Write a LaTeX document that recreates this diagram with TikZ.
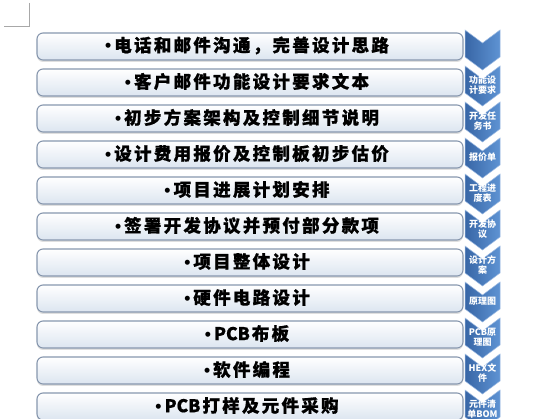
\documentclass[tikz,border=0pt]{standalone}
\usepackage{fontspec}
\newfontfamily\cjk{Noto Sans CJK SC}
\newfontfamily\lat{Liberation Sans}
\usetikzlibrary{shadows}
\definecolor{boxedge}{HTML}{8797AE}
\definecolor{boxbot}{HTML}{DCE5F0}
\definecolor{chevl}{HTML}{3866A6}
\definecolor{chevr}{HTML}{5E93D3}
\definecolor{chevedge}{HTML}{9DBBE3}
\definecolor{cropgray}{HTML}{A8A8A8}
\newcommand{\bul}{{\lat •}\hspace{3pt}}
\newcommand{\lt}[1]{{\addfontfeature{LetterSpace=0}#1}\hspace{2pt}}
\tikzset{
  stepbox/.style={draw=boxedge, line width=1.1pt, rounded corners=6pt,
    top color=white, bottom color=boxbot, minimum width=426pt, minimum height=27pt,
    inner sep=0pt,
    drop shadow={opacity=0.25, shadow xshift=0pt, shadow yshift=-2pt}},
  steptext/.style={inner sep=0pt,
    font=\cjk\bfseries\fontsize{17.5}{17.5}\selectfont\addfontfeature{LetterSpace=13,FakeBold=0.8}},
  chev/.style={left color=chevl, right color=chevr, draw=chevedge, line width=0.5pt},
  chevlabel/.style={text=white, align=center, inner sep=0pt,
    font=\cjk\bfseries\fontsize{9}{10}\selectfont},
  crop/.style={draw=cropgray, line width=0.6pt}
}
\begin{document}
\begin{tikzpicture}[x=1pt, y=-1pt]
\useasboundingbox (0,0) rectangle (538,419);
\clip (0,0) rectangle (538,419);
\fill[white] (0,0) rectangle (538,419);
% crop mark
\coordinate (m1) at (29.5,3);
\coordinate (m2) at (29.5,26);
\coordinate (m3) at (4,26);
\draw[crop] (m1) -- (m2) -- (m3);
% boxes
\foreach \i/\t in {1/{电话和邮件沟通，完善设计思路},
                   2/{客户邮件功能设计要求文本},
                   3/{初步方案架构及控制细节说明},
                   4/{设计费用报价及控制板初步估价},
                   5/{项目进展计划安排},
                   6/{签署开发协议并预付部分款项},
                   7/{项目整体设计},
                   8/{硬件电路设计},
                   9/{\lt{PCB}布板},
                   10/{软件编程},
                   11/{\lt{PCB}打样及元件采购}} {
  \node[stepbox] (b\i) at (250, {46.5+36*(\i-1)}) {};
  \node[steptext] (t\i) at (247, {45.5+36*(\i-1)}) {\bul\t};
}
% chevrons
\foreach \i/\t in {1/{},
                   2/{功能设\\计要求},
                   3/{开发任\\务书},
                   4/{报价单},
                   5/{工程进\\度表},
                   6/{开发协\\议},
                   7/{设计方\\案},
                   8/{原理图},
                   9/{PCB原\\理图},
                   10/{HEX文\\件},
                   11/{元件清\\单BOM}} {
  \pgfmathsetmacro{\T}{30+36*(\i-1)}
  \shade[chev] (465,\T) -- (482.5,\T+13) -- (500,\T) -- (500,\T+27)
        -- (482.5,\T+40) -- (465,\T+27) -- cycle;
  \node[chevlabel] (c\i) at (482.5,\T+19) {\t};
}
\end{tikzpicture}
\end{document}
